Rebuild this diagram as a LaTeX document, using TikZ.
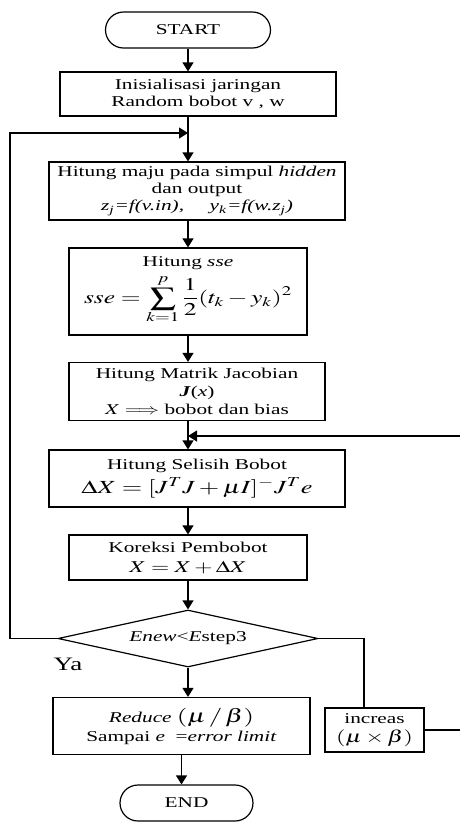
\documentclass[tikz,border=0pt]{standalone}
\usepackage{graphicx}
\usepackage{mathptmx}
\usepackage{fontspec}
\setmainfont{Liberation Serif}
\usetikzlibrary{arrows.meta,shapes.geometric}
\newcommand{\W}[1]{\scalebox{1.42}[1]{#1}}
\newcommand{\bigsz}{\fontsize{19}{21}\selectfont}
\tikzset{
  ln/.style={line width=1.2pt},
  arr/.style={line width=1.2pt,-{Triangle[length=9pt,width=11pt]}},
  box/.style={draw,line width=1.2pt,rectangle,inner sep=0pt,align=center,
    font=\fontsize{15}{17}\selectfont},
  pill/.style={box,rounded corners=18pt},
  dec/.style={draw,line width=1.2pt,diamond,inner sep=0pt,align=center,
    font=\fontsize{15}{17}\selectfont},
}
\begin{document}
\begin{tikzpicture}[x=1pt,y=-1pt]
\useasboundingbox (0,0) rectangle (460,823);
% nodes
\node[pill,minimum width=165pt,minimum height=36pt] (start) at (188,30) {\W{START}};
\node[box,minimum width=276pt,minimum height=44pt] (b1) at (198,94)
  {\W{Inisialisasi jaringan}\\\W{Random bobot v , w}};
\node[box,minimum width=296pt,minimum height=58pt] (b2) at (197,191)
  {\W{Hitung maju pada simpul \textit{hidden}}\\\W{dan output}\\
   \W{\textit{z}\textsubscript{\textit{j}}\textit{=f(v.in),}\hspace{1.2em}\textit{y}\textsubscript{\textit{k}}\textit{=f(w.z}\textsubscript{\textit{j}}\textit{)}}};
\node[box,minimum width=238pt,minimum height=87pt] (b3) at (188,291.5)
  {\W{Hitung \textit{sse}}\\[5pt]\W{\fontsize{18}{20}\selectfont$\displaystyle sse = \sum_{k=1}^{p}\frac{1}{2}(t_{k}-y_{k})^{2}$}\\[2pt]};
\node[box,minimum width=256pt,minimum height=58pt] (b4) at (197,391.5)
  {\W{Hitung Matrik Jacobian}\\[1pt]\W{\textbf{\textit{J}}(\textit{x})}\\[1pt]\W{$X\Longrightarrow$ bobot dan bias}};
\node[box,minimum width=296pt,minimum height=57pt] (b5) at (197,478.5)
  {\W{Hitung Selisih Bobot}\\[4pt]\W{\fontsize{18.5}{20}\selectfont$\Delta X = [J^{T}J + \mu I]^{-}J^{T}e$}};
\node[box,minimum width=238pt,minimum height=45pt] (b6) at (188,557.5)
  {\W{Koreksi Pembobot}\\[3pt]\W{\fontsize{16.5}{18}\selectfont$X = X + \Delta X$}};
\node[dec,minimum width=260pt,minimum height=57pt,aspect=4.56] (dia) at (188,638.5)
  {\W{\textit{Enew}<\textit{E}step3}};
\node[box,minimum width=257pt,minimum height=57pt] (b7) at (181.5,726)
  {\W{\textit{Reduce} {\bigsz$(\mu\,/\,\beta)$}}\\[2pt]\W{Sampai \textit{e} \ =\textit{error limit}}};
\node[box,minimum width=99pt,minimum height=44pt] (inc) at (374.5,730)
  {\W{increas}\\[2pt]\W{\fontsize{17}{19}\selectfont$(\mu\times\beta)$}};
\node[pill,minimum width=133pt,minimum height=36pt] (end) at (186.5,803) {\W{END}};
\node[font=\fontsize{19}{21}\selectfont] (ya) at (68,664) {\W{Ya}};
% helper coordinates
\coordinate (ax) at (188,0);
\coordinate (fbL) at (188,133);
\coordinate (fbR) at (188,436);
\coordinate (lx) at (10,0);
\coordinate (rx) at (364,0);
\coordinate (rr) at (462,0);
% connectors
\draw[arr] (start.south) -- (start.south |- b1.north);
\draw[arr] (b1.south -| ax) -- (b2.north -| ax);
\draw[arr] (b2.south -| ax) -- (b3.north -| ax);
\draw[arr] (b3.south -| ax) -- (b4.north -| ax);
\draw[arr] (b4.south -| ax) -- (b5.north -| ax);
\draw[arr] (b5.south -| ax) -- (b6.north -| ax);
\draw[arr] (b6.south -| ax) -- (dia.north);
\draw[arr] (dia.south) -- (dia.south |- b7.north);
\draw[arr] (b7.south) -- (b7.south |- end.north);
\draw[arr] (dia.west) -- (lx |- dia.west) -- (lx |- fbL) -- (fbL);
\draw[ln] (dia.east) -- (rx |- dia.east) -- (rx |- inc.north);
\draw[arr] (inc.east) -- (rr |- inc.east) -- (rr |- fbR) -- (fbR);
\end{tikzpicture}
\end{document}
